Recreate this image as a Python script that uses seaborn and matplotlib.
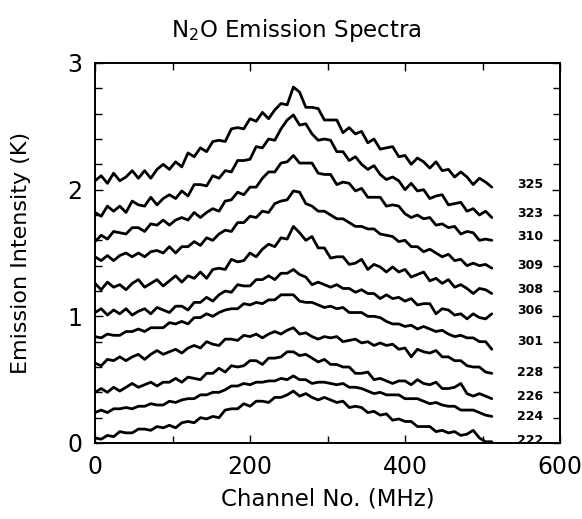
import numpy as np
import pandas as pd
import matplotlib
matplotlib.use("Agg")
import matplotlib.pyplot as plt
import seaborn as sns
from matplotlib.ticker import MultipleLocator

# ---- data ----
channels = list(range(0, 513, 8))

scan_labels = ["325", "323", "310", "309", "308", "306", "301", "228", "226", "224", "222"]

s325 = [2.07, 2.11, 2.05, 2.13, 2.07, 2.10, 2.15, 2.09, 2.15, 2.09, 2.16, 2.20, 2.16, 2.22, 2.18, 2.29,
        2.26, 2.33, 2.30, 2.38, 2.39, 2.38, 2.48, 2.49, 2.48, 2.56, 2.54, 2.61, 2.56, 2.63, 2.68, 2.67,
        2.81, 2.77, 2.65, 2.65, 2.64, 2.55, 2.55, 2.55, 2.45, 2.49, 2.44, 2.46, 2.37, 2.40, 2.32, 2.33,
        2.34, 2.26, 2.27, 2.20, 2.25, 2.22, 2.17, 2.22, 2.15, 2.16, 2.10, 2.14, 2.10, 2.04, 2.09, 2.06, 2.02]
s323 = [1.82, 1.79, 1.87, 1.83, 1.87, 1.82, 1.91, 1.88, 1.87, 1.94, 1.88, 1.93, 1.96, 1.93, 1.99, 1.95,
        2.04, 2.04, 2.03, 2.11, 2.09, 2.15, 2.14, 2.23, 2.23, 2.24, 2.34, 2.33, 2.40, 2.39, 2.48, 2.55,
        2.59, 2.51, 2.52, 2.44, 2.39, 2.40, 2.39, 2.30, 2.30, 2.23, 2.26, 2.20, 2.16, 2.19, 2.12, 2.08,
        2.10, 2.07, 2.00, 2.05, 1.99, 2.00, 1.93, 1.95, 1.96, 1.88, 1.89, 1.90, 1.83, 1.85, 1.80, 1.83, 1.78]
s310 = [1.59, 1.64, 1.61, 1.67, 1.66, 1.65, 1.70, 1.70, 1.67, 1.73, 1.72, 1.76, 1.72, 1.76, 1.78, 1.76,
        1.82, 1.78, 1.82, 1.85, 1.83, 1.91, 1.92, 1.98, 1.96, 2.02, 2.02, 2.09, 2.14, 2.14, 2.21, 2.22,
        2.27, 2.21, 2.21, 2.21, 2.13, 2.12, 2.12, 2.04, 2.06, 2.05, 1.99, 2.01, 1.94, 1.94, 1.94, 1.87,
        1.88, 1.87, 1.81, 1.78, 1.80, 1.77, 1.78, 1.72, 1.73, 1.70, 1.71, 1.65, 1.67, 1.66, 1.60, 1.61, 1.60]
s309 = [1.47, 1.44, 1.48, 1.44, 1.48, 1.50, 1.47, 1.50, 1.47, 1.51, 1.52, 1.50, 1.55, 1.50, 1.55, 1.55,
        1.59, 1.56, 1.62, 1.60, 1.65, 1.68, 1.67, 1.74, 1.74, 1.79, 1.78, 1.83, 1.82, 1.89, 1.91, 1.92,
        1.99, 1.98, 1.89, 1.87, 1.83, 1.83, 1.80, 1.77, 1.77, 1.74, 1.71, 1.71, 1.69, 1.69, 1.65, 1.64,
        1.63, 1.59, 1.60, 1.55, 1.55, 1.51, 1.53, 1.50, 1.47, 1.49, 1.44, 1.45, 1.40, 1.42, 1.40, 1.41, 1.38]
s308 = [1.26, 1.21, 1.27, 1.23, 1.25, 1.21, 1.26, 1.29, 1.23, 1.26, 1.29, 1.24, 1.28, 1.32, 1.27, 1.32,
        1.30, 1.35, 1.30, 1.37, 1.38, 1.37, 1.45, 1.43, 1.44, 1.50, 1.47, 1.53, 1.57, 1.55, 1.62, 1.61,
        1.71, 1.66, 1.60, 1.63, 1.54, 1.54, 1.46, 1.47, 1.47, 1.41, 1.42, 1.45, 1.37, 1.41, 1.39, 1.35,
        1.39, 1.35, 1.37, 1.31, 1.33, 1.35, 1.28, 1.30, 1.26, 1.29, 1.23, 1.25, 1.22, 1.18, 1.22, 1.21, 1.18]
s306 = [1.03, 1.06, 1.01, 1.05, 1.02, 1.06, 1.01, 1.04, 1.06, 1.02, 1.07, 1.05, 1.03, 1.08, 1.08, 1.05,
        1.11, 1.11, 1.15, 1.12, 1.17, 1.20, 1.19, 1.25, 1.24, 1.24, 1.29, 1.29, 1.32, 1.29, 1.34, 1.34,
        1.37, 1.33, 1.31, 1.25, 1.27, 1.25, 1.23, 1.25, 1.22, 1.22, 1.19, 1.21, 1.18, 1.18, 1.14, 1.17,
        1.14, 1.15, 1.12, 1.14, 1.09, 1.10, 1.10, 1.02, 1.06, 1.05, 1.01, 1.02, 0.98, 1.02, 0.99, 0.98, 1.02]
s301 = [0.84, 0.83, 0.86, 0.85, 0.85, 0.88, 0.88, 0.90, 0.88, 0.91, 0.91, 0.91, 0.95, 0.94, 0.96, 0.94,
        0.99, 0.99, 1.02, 1.00, 1.03, 1.05, 1.06, 1.06, 1.10, 1.09, 1.11, 1.10, 1.13, 1.13, 1.17, 1.17,
        1.17, 1.12, 1.11, 1.11, 1.09, 1.07, 1.08, 1.06, 1.07, 1.03, 1.03, 1.03, 1.00, 1.00, 0.99, 0.96,
        0.94, 0.94, 0.92, 0.93, 0.90, 0.92, 0.90, 0.88, 0.89, 0.86, 0.84, 0.85, 0.83, 0.83, 0.80, 0.80, 0.74]
s228 = [0.63, 0.61, 0.66, 0.65, 0.68, 0.65, 0.68, 0.70, 0.66, 0.70, 0.73, 0.70, 0.72, 0.74, 0.71, 0.75,
        0.77, 0.75, 0.80, 0.78, 0.77, 0.82, 0.82, 0.81, 0.85, 0.84, 0.86, 0.83, 0.86, 0.88, 0.86, 0.89,
        0.91, 0.86, 0.87, 0.84, 0.82, 0.84, 0.83, 0.84, 0.80, 0.81, 0.82, 0.79, 0.80, 0.77, 0.79, 0.77,
        0.78, 0.74, 0.75, 0.68, 0.74, 0.72, 0.71, 0.73, 0.68, 0.68, 0.65, 0.65, 0.61, 0.60, 0.60, 0.56, 0.55]
s226 = [0.40, 0.43, 0.40, 0.44, 0.41, 0.44, 0.47, 0.44, 0.46, 0.48, 0.45, 0.48, 0.48, 0.51, 0.48, 0.52,
        0.51, 0.50, 0.55, 0.55, 0.59, 0.56, 0.61, 0.60, 0.61, 0.65, 0.65, 0.62, 0.67, 0.67, 0.68, 0.72,
        0.72, 0.69, 0.70, 0.67, 0.64, 0.66, 0.62, 0.62, 0.60, 0.60, 0.55, 0.55, 0.56, 0.50, 0.51, 0.49,
        0.47, 0.49, 0.49, 0.46, 0.50, 0.47, 0.46, 0.48, 0.43, 0.43, 0.44, 0.47, 0.39, 0.37, 0.39, 0.37, 0.35]
s224 = [0.24, 0.26, 0.24, 0.27, 0.27, 0.28, 0.27, 0.29, 0.29, 0.31, 0.30, 0.30, 0.33, 0.32, 0.34, 0.35,
        0.35, 0.38, 0.38, 0.40, 0.40, 0.42, 0.45, 0.45, 0.47, 0.46, 0.48, 0.48, 0.49, 0.49, 0.51, 0.50,
        0.53, 0.50, 0.50, 0.47, 0.48, 0.48, 0.47, 0.46, 0.47, 0.44, 0.44, 0.43, 0.41, 0.39, 0.40, 0.38,
        0.38, 0.38, 0.35, 0.35, 0.35, 0.33, 0.31, 0.32, 0.30, 0.29, 0.29, 0.26, 0.26, 0.26, 0.24, 0.22, 0.21]
s222 = [0.04, 0.03, 0.06, 0.05, 0.09, 0.08, 0.08, 0.11, 0.11, 0.10, 0.13, 0.12, 0.14, 0.12, 0.16, 0.17,
        0.16, 0.20, 0.19, 0.21, 0.20, 0.26, 0.27, 0.27, 0.31, 0.29, 0.33, 0.33, 0.32, 0.36, 0.36, 0.38,
        0.41, 0.37, 0.39, 0.36, 0.34, 0.36, 0.34, 0.32, 0.33, 0.28, 0.29, 0.28, 0.24, 0.25, 0.22, 0.23,
        0.18, 0.19, 0.17, 0.17, 0.13, 0.13, 0.13, 0.09, 0.10, 0.08, 0.09, 0.06, 0.07, 0.10, 0.04, 0.01, 0.01]

series = [s325, s323, s310, s309, s308, s306, s301, s228, s226, s224, s222]
label_y = [2.04, 1.81, 1.63, 1.40, 1.21, 1.05, 0.80, 0.555, 0.365, 0.21, 0.02]

x_ticks = [0, 200, 400, 600]
y_ticks = [0, 1, 2, 3]

# ---- long table ----
rows = []
for lab, vals in zip(scan_labels, series):
    for c, v in zip(channels, vals):
        rows.append({"channel": c, "intensity": v, "scan": lab})
df = pd.DataFrame(rows)

# ---- plot ----
sns.set_style("ticks")
plt.rcParams["font.family"] = ["DejaVu Sans"]
plt.rcParams["text.color"] = "black"
plt.rcParams["axes.labelcolor"] = "black"
plt.rcParams["xtick.color"] = "black"
plt.rcParams["ytick.color"] = "black"

fig = plt.figure(figsize=(5.82, 5.19), dpi=100)
ax = fig.add_axes([95 / 582, 1 - 443 / 519, 465 / 582, 380 / 519])

sns.lineplot(data=df, x="channel", y="intensity", hue="scan", hue_order=scan_labels,
             palette=["black"] * len(scan_labels), estimator=None, sort=False,
             legend=False, linewidth=2.0, ax=ax)

for lab, yy in zip(scan_labels, label_y):
    ax.text(545, yy, lab, fontsize=9, fontweight="bold", ha="left", va="center", color="black")

ax.set_xlim(0, 600)
ax.set_ylim(0, 3)
ax.set_xticks(x_ticks)
ax.set_yticks(y_ticks)
ax.xaxis.set_minor_locator(MultipleLocator(100))
ax.yaxis.set_minor_locator(MultipleLocator(0.2))
ax.tick_params(which="both", direction="in", top=True, right=True, color="black", width=1.0)
ax.tick_params(which="major", length=6, labelsize=17, pad=9, labelcolor="black")
ax.tick_params(which="minor", length=5)
for sp in ax.spines.values():
    sp.set_visible(True)
    sp.set_linewidth(1.4)
    sp.set_color("black")

ax.set_xlabel("Channel No. (MHz)", fontsize=16.5, labelpad=6, color="black")
ax.set_ylabel("Emission Intensity (K)", fontsize=16, labelpad=26, color="black")
fig.text(296 / 582, 1 - 30 / 519, r"N$_2$O Emission Spectra", fontsize=16.5, ha="center",
         va="center", color="black")

fig.savefig("out.png", dpi=100)
